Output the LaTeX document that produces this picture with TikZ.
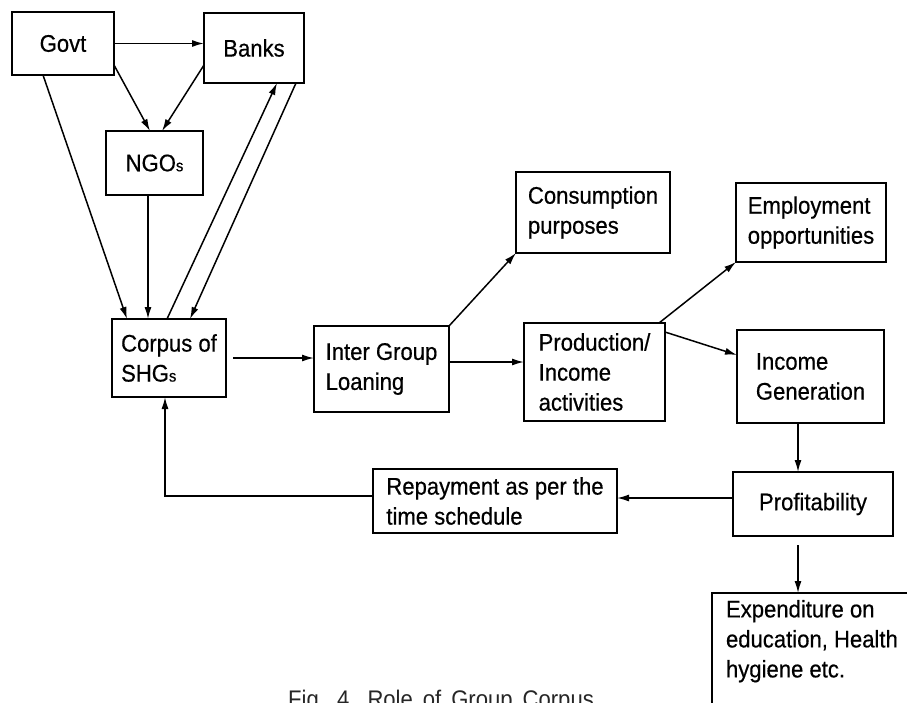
\documentclass[tikz,border=0pt]{standalone}
\usepackage{fontspec}
\setmainfont{Liberation Sans}
\newfontfamily\boxfont[FakeStretch=0.92,FakeBold=0.5]{Liberation Sans}
\newfontfamily\capfont[FakeStretch=0.92]{Liberation Sans}
\usetikzlibrary{arrows.meta}
\newcommand{\smalls}{{\fontsize{16pt}{16pt}\selectfont s}}
\begin{document}
\begin{tikzpicture}[x=1pt,y=-1pt,
  box/.style={draw, line width=1.6pt, inner sep=0pt, outer sep=0pt, align=left,
    font={\boxfont\fontsize{24pt}{30pt}\selectfont}},
  arr/.style={line width=1.5pt, -{Latex[length=12pt,width=7pt]}},
  plain/.style={line width=1.5pt}]
\clip (0,0) rectangle (907,702);
\fill[white] (0,0) rectangle (907,702);
% boxes
\node[box, minimum width=102pt, minimum height=63pt] (govt) at (63,43.5) {Govt};
\node[box, minimum width=100pt, minimum height=70pt] (banks) at (254,48) {Banks};
\node[box, minimum width=97pt, minimum height=64pt] (ngos) at (154.5,163) {NGO\smalls};
\node[box, minimum width=114pt, minimum height=78pt] (corpus) at (169,358) {Corpus of\\SHG\smalls};
\node[box, minimum width=135pt, minimum height=86pt] (inter) at (381.5,369) {Inter Group\\Loaning};
\node[box, minimum width=154pt, minimum height=81pt] (cons) at (593,212.5) {Consumption\\purposes};
\node[box, minimum width=141pt, minimum height=98pt] (prod) at (594.5,372) {Production/\\Income\\activities};
\node[box, minimum width=150pt, minimum height=79pt] (emp) at (811,222.5) {Employment\\opportunities};
\node[box, minimum width=147pt, minimum height=93pt] (inc) at (810.5,376.5) {Income\\Generation};
\node[box, minimum width=160pt, minimum height=64pt] (prof) at (813,504) {Profitability};
\node[box, minimum width=244pt, minimum height=64pt] (repay) at (495,501) {Repayment as per the\\time schedule};
\node[box, anchor=north west, inner xsep=14pt, inner ysep=7pt] (exp) at (712,593)
  {\parbox[c][123pt][t]{180pt}{Expenditure on\\education, Health\\hygiene etc.}};
\node[anchor=base west, inner sep=0pt, text=black!85, font={\capfont\fontsize{24pt}{28pt}\selectfont\spaceskip=10pt plus 1pt}] (cap) at (288,707) {Fig. 4. Role of Group Corpus};
% connectors
\draw[arr] (govt.east) -- (govt.east -| banks.west);
\draw[arr] ([yshift=-21.5pt]govt.east) -- ([xshift=-4.5pt]ngos.north);
\draw[arr] ([yshift=-17pt]banks.west) -- ([xshift=7.5pt]ngos.north);
\draw[arr] ([xshift=-20pt]govt.south) -- ([xshift=-42pt]corpus.north);
\draw[arr] ([xshift=-6.5pt]ngos.south) -- ([xshift=-21pt]corpus.north);
\draw[arr] ([xshift=-2pt]corpus.north) -- ([xshift=23pt]banks.south);
\draw[arr] ([xshift=42pt]banks.south) -- ([xshift=21pt]corpus.north);
\draw[arr] ([xshift=7pt]corpus.east) -- (corpus.east -| inter.west);
\draw[arr] ([yshift=7pt]inter.east) -- ([yshift=7pt]inter.east -| prod.west);
\draw[arr] (inter.north east) -- (cons.south west);
\draw[arr] ([xshift=-6pt]prod.north east) -- (emp.south west);
\draw[arr] ([yshift=-9pt]prod.north east) -- ([yshift=-25pt]inc.north west);
\draw[arr] ([xshift=-12.5pt]inc.south) -- ([xshift=-12.5pt]inc.south |- prof.north);
\draw[arr] ([yshift=6pt]prof.west) -- ([yshift=6pt]prof.west -| repay.east);
\draw[arr] ([xshift=-15pt,yshift=-9pt]prof.south) -- ([xshift=-15pt]prof.south |- exp.north);
\draw[arr] ([yshift=5pt]repay.west) -| ([xshift=-4pt]corpus.south);
\end{tikzpicture}
\end{document}
